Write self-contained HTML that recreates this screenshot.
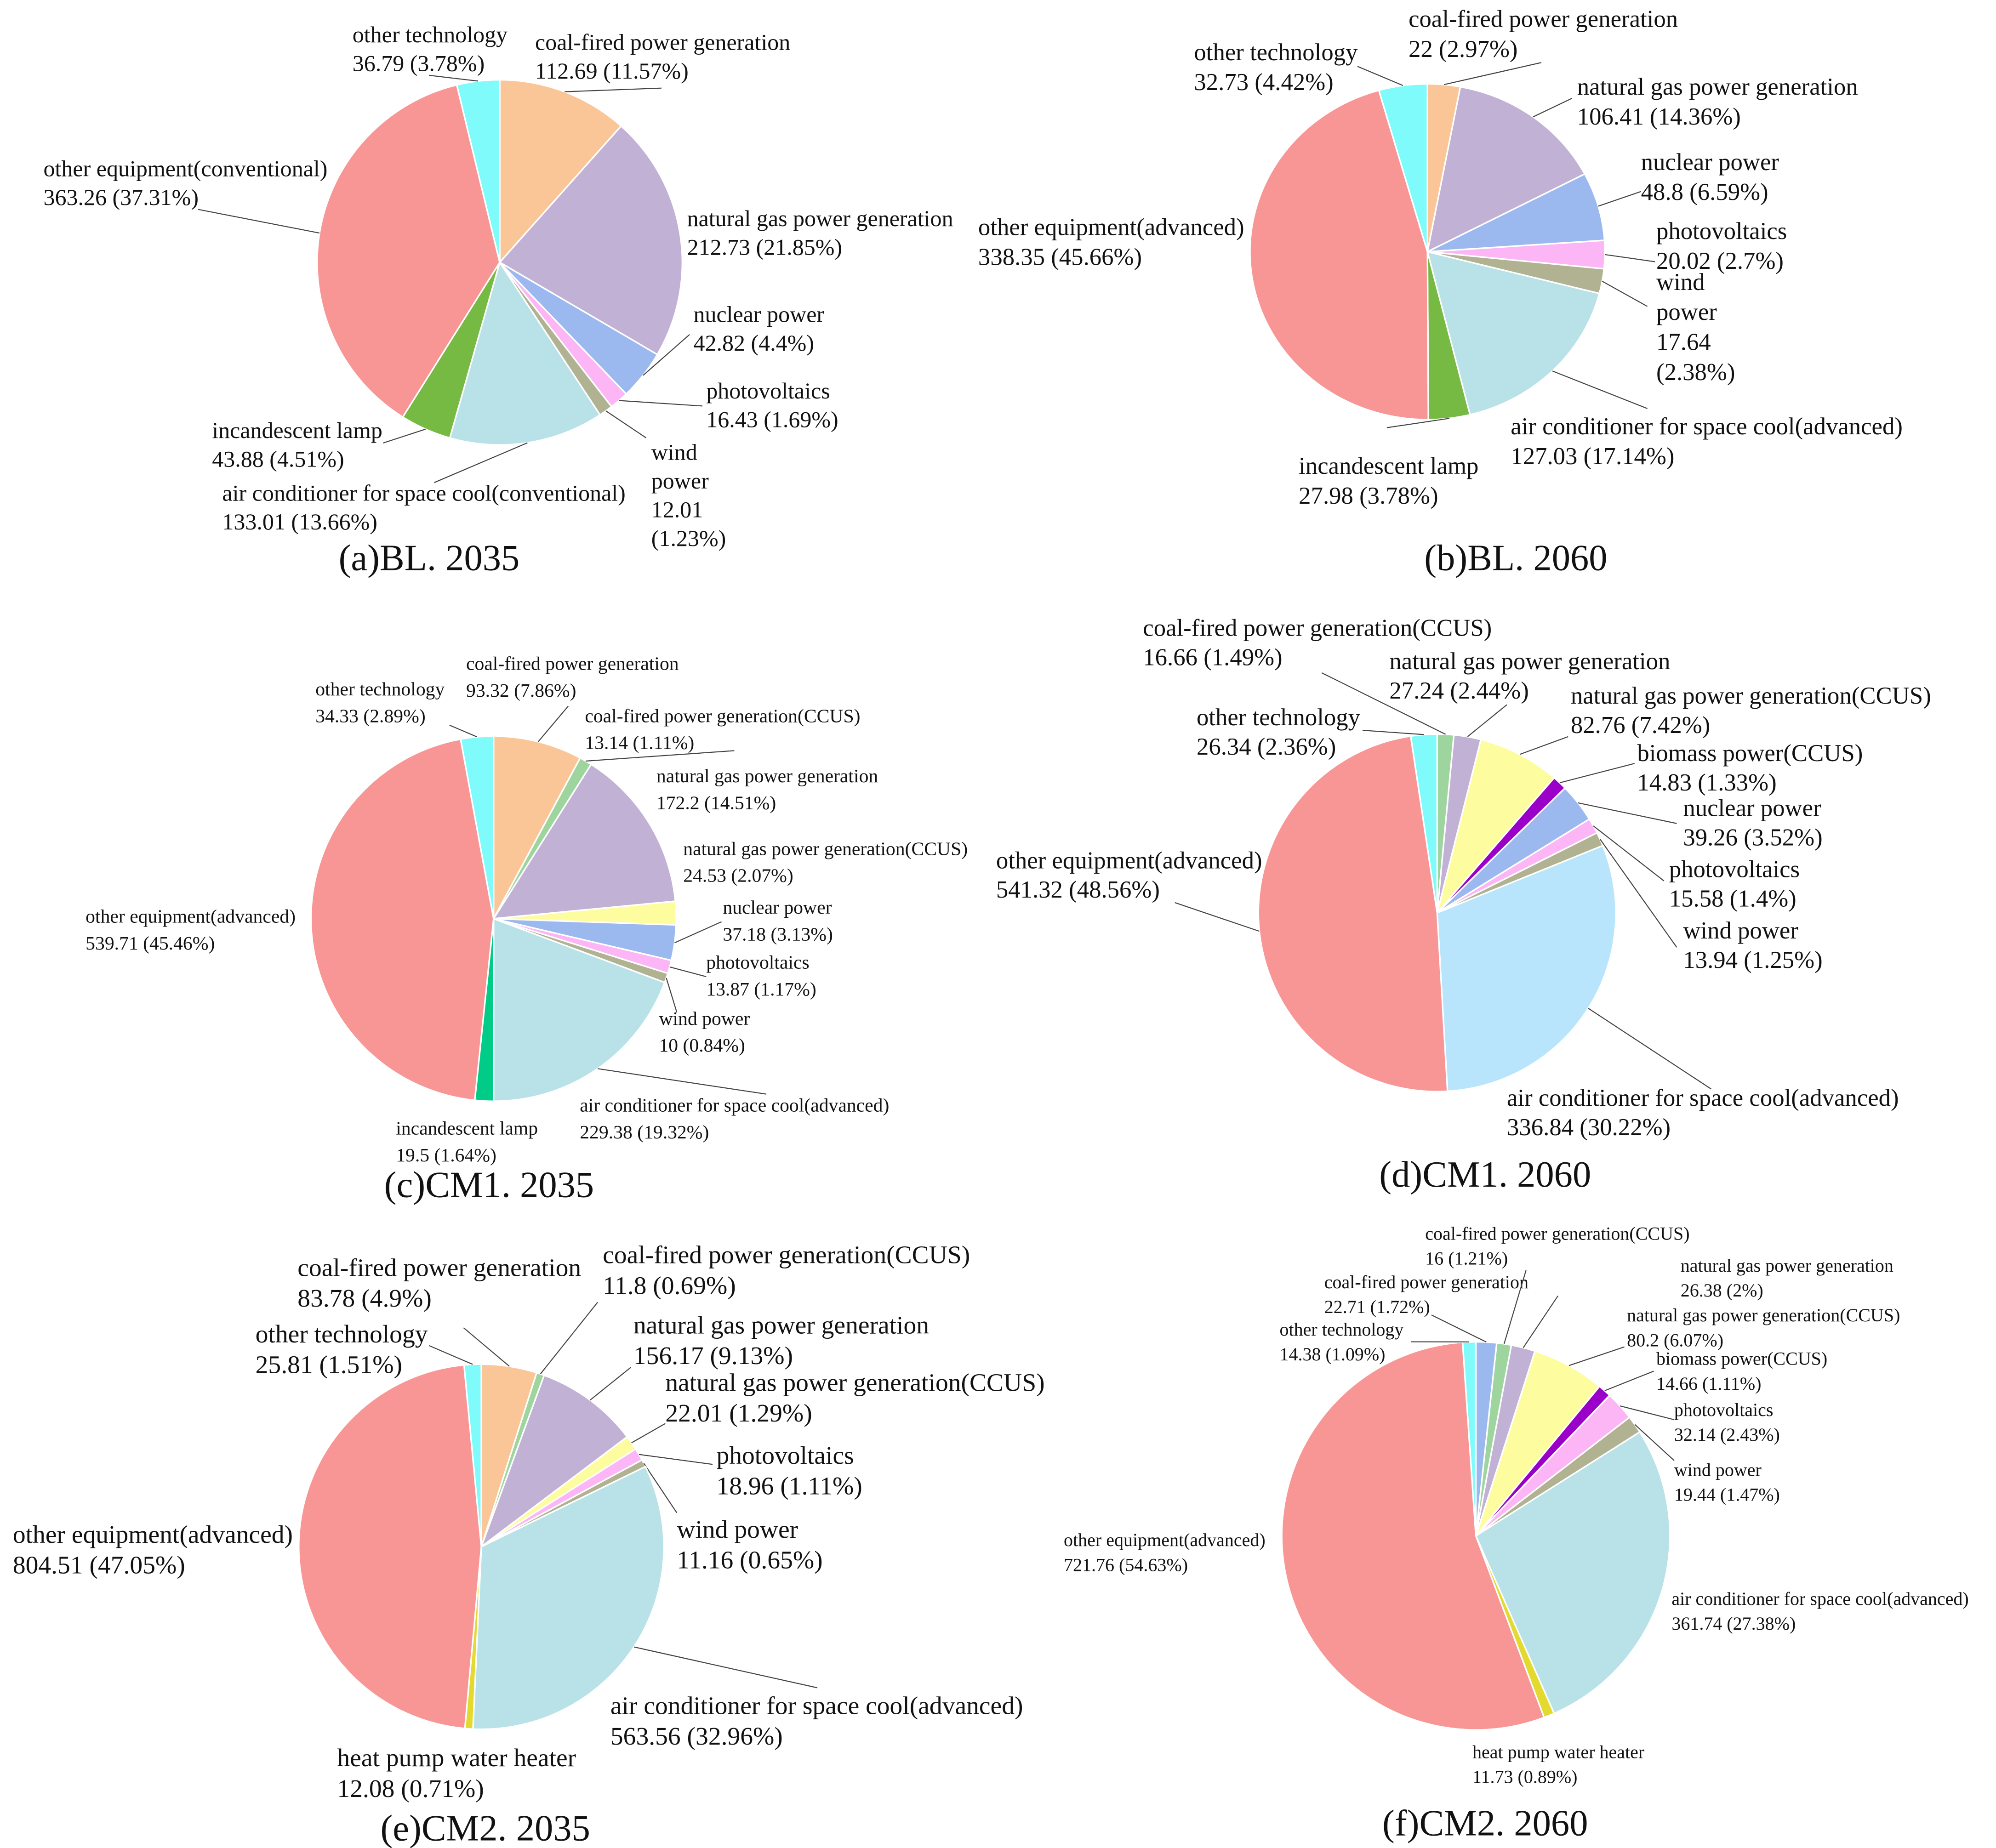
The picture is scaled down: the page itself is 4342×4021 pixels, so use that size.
<!DOCTYPE html>
<html><head><meta charset="utf-8"><style>
html,body{margin:0;padding:0;background:#fff;}
svg{display:block;font-family:"Liberation Serif",serif;}
</style></head><body>
<svg id="fig" xmlns="http://www.w3.org/2000/svg" width="4342" height="4021" viewBox="0 0 1563 1447.5">
<rect x="0" y="0" width="1563" height="1447.5" fill="#fff"/>
</svg>
<script>
// ---- data (a) BL 2035 ----
const aCats=["coal","gas","nuclear","pv","wind","ac","incand","otherEq","otherTech"];
const aValues=[112.69,212.73,42.82,16.43,12.01,133.01,43.88,363.26,36.79];
const aPct=[11.57,21.85,4.4,1.69,1.23,13.66,4.51,37.31,3.78];
// ---- data (b) BL 2060 ----
const bCats=["coal","gas","nuclear","pv","wind","acAdv","incand","otherEqAdv","otherTech"];
const bValues=[22,106.41,48.8,20.02,17.64,127.03,27.98,338.35,32.73];
const bPct=[2.97,14.36,6.59,2.7,2.38,17.14,3.78,45.66,4.42];
// ---- data (c) CM1 2035 ----
const cCats=["coal","coalCCUS","gas","gasCCUS","nuclear","pv","wind","acAdv","incand","otherEqAdv","otherTech"];
const cValues=[93.32,13.14,172.2,24.53,37.18,13.87,10,229.38,19.5,539.71,34.33];
const cPct=[7.86,1.11,14.51,2.07,3.13,1.17,0.84,19.32,1.64,45.46,2.89];
// ---- data (d) CM1 2060 ----
const dCats=["coalCCUS","gas","gasCCUS","biomass","nuclear","pv","wind","acAdv","otherEqAdv","otherTech"];
const dValues=[16.66,27.24,82.76,14.83,39.26,15.58,13.94,336.84,541.32,26.34];
const dPct=[1.49,2.44,7.42,1.33,3.52,1.4,1.25,30.22,48.56,2.36];
// ---- data (e) CM2 2035 ----
const eCats=["coal","coalCCUS","gas","gasCCUS","pv","wind","acAdv","heat","otherEqAdv","otherTech"];
const eValues=[83.78,11.8,156.17,22.01,18.96,11.16,563.56,12.08,804.51,25.81];
const ePct=[4.9,0.69,9.13,1.29,1.11,0.65,32.96,0.71,47.05,1.51];
// ---- data (f) CM2 2060 ----
const fCats=["coal","coalCCUS","gas","gasCCUS","biomass","pv","wind","acAdv","heat","otherEqAdv","otherTech"];
const fValues=[22.71,16,26.38,80.2,14.66,32.14,19.44,361.74,11.73,721.76,14.38];
const fPct=[1.72,1.21,2,6.07,1.11,2.43,1.47,27.38,0.89,54.63,1.09];

const names={coal:"coal-fired power generation",coalCCUS:"coal-fired power generation(CCUS)",gas:"natural gas power generation",gasCCUS:"natural gas power generation(CCUS)",biomass:"biomass power(CCUS)",nuclear:"nuclear power",pv:"photovoltaics",wind:"wind power",ac:"air conditioner for space cool(conventional)",acAdv:"air conditioner for space cool(advanced)",incand:"incandescent lamp",heat:"heat pump water heater",otherEq:"other equipment(conventional)",otherEqAdv:"other equipment(advanced)",otherTech:"other technology"};
const colors={coal:"#fbc697",coalCCUS:"#9ed59e",gas:"#c1b1d5",gasCCUS:"#fdfda0",biomass:"#9b00c8",nuclear:"#9cb9ef",pv:"#fcb6f5",wind:"#b0b292",ac:"#b8e2e8",acAdv:"#b8e2e8",incand:"#76b943",heat:"#e3da30",otherEq:"#f89696",otherEqAdv:"#f89696",otherTech:"#80fbfb"};

// layout (positions only)
const charts=[
 {id:"a",cats:aCats,vals:aValues,pct:aPct,cx:391.3,cy:205.5,rx:143,ry:143,fs:18,ls:22.5,title:"(a)BL. 2035",tx:336,ty:437,
  lab:[[419,33,518,69],[538,171,null],[543,246,540,262],[553,306,550,318],[510,354,506,343,1],[174,386,340,378],[166,337,300,347],[34,132,155,164],[276,27,336,59]]},
 {id:"b",cats:bCats,vals:bValues,pct:bPct,cx:1117.8,cy:197.2,rx:139,ry:131.5,fs:19,ls:23.5,title:"(b)BL. 2060",tx:1187,ty:437,
  lab:[[1103,15,1207,49],[1235,68,1231,77],[1285,127,1285,150],[1297,181,1296,205],[1297,221,1290,240,1],[1183,334,1290,320],[1017,365,1086,335],[766,178,null],[935,41,1063,52]]},
 {id:"c",cats:cCats,vals:cValues,pct:cPct,cx:386.5,cy:719.6,rx:143,ry:143,fs:15,ls:21,title:"(c)CM1. 2035",tx:383,ty:928,incColor:"#00cc88",
  lab:[[365,520,445,553],[458,561,575,588],[514,608,null],[535,665,null],[566,711,565,722],[553,754,553,765],[516,798,530,793],[454,866,600,857],[310,884,null],[67,718,null],[247,540,352,568]]},
 {id:"d",cats:dCats,vals:dValues,pct:dPct,cx:1125.4,cy:715,rx:140,ry:140,fs:19,ls:23,title:"(d)CM1. 2060",tx:1163,ty:920,acColor:"#b8e5fb",
  lab:[[895,492,1035,527],[1088,518,1180,552],[1230,545,1228,577],[1282,590,1280,598],[1318,633,1313,645],[1307,681,1303,690],[1318,729,1313,742],[1180,860,1340,853],[780,674,920,707],[937,562,1067,572]]},
 {id:"e",cats:eCats,vals:eValues,pct:ePct,cx:376.9,cy:1211.5,rx:143,ry:143,fs:20,ls:24,title:"(e)CM2. 2035",tx:380,ty:1432,
  lab:[[233,993,363,1040],[472,983,468,1020],[496,1038,494,1071],[521,1083,521,1115],[561,1140,558,1147],[530,1198,530,1185],[478,1336,640,1322],[264,1377,null],[10,1202,null],[200,1045,336,1054]]},
 {id:"f",cats:fCats,vals:fValues,pct:fPct,cx:1155.7,cy:1203,rx:152,ry:152,fs:14.4,ls:19.5,title:"(f)CM2. 2060",tx:1163,ty:1428,coalColor:"#9cb9ef",
  lab:[[1037,1004,1121,1030],[1116,966,1195,995],[1316,991,1220,1015],[1274,1030,1272,1055],[1297,1064,1295,1074],[1311,1104,1311,1112],[1311,1151,1311,1144],[1309,1252,null],[1153,1372,null],[833,1206,null],[1002,1041,1105,1051]]}
];
const NS="http://www.w3.org/2000/svg";
const svg=document.getElementById("fig");
function mk(tag,attrs,parent){const e=document.createElementNS(NS,tag);for(const k in attrs)e.setAttribute(k,attrs[k]);parent.appendChild(e);return e;}
function pt(c,ang,k){return [c.cx+c.rx*k*Math.sin(ang),c.cy-c.ry*k*Math.cos(ang)];}
charts.forEach(c=>{
  const g=mk("g",{},svg);
  
  
  const total=c.vals.reduce((s,v)=>s+v,0);
  let a0=0;
  c.cats.forEach((cat,i)=>{
    const a1=a0+c.vals[i]/total*2*Math.PI;
    const p0=pt(c,a0,1),p1=pt(c,a1,1);
    const large=(a1-a0)>Math.PI?1:0;
    let col=colors[cat];
    if(cat==="incand"&&c.incColor)col=c.incColor;
    if(cat==="acAdv"&&c.acColor)col=c.acColor;
    if(cat==="coal"&&c.coalColor)col=c.coalColor;
    const p=mk("path",{d:`M${c.cx},${c.cy} L${p0[0]},${p0[1]} A${c.rx},${c.ry} 0 ${large} 1 ${p1[0]},${p1[1]} Z`,fill:col,stroke:"#fff","stroke-width":1.2},g);
    
    
    const L=c.lab[i];
    const mid=(a0+a1)/2;
    if(L[2]!==null&&L[2]!==undefined){
      const s=pt(c,mid,1);
      const ln=mk("line",{x1:s[0],y1:s[1],x2:L[2],y2:L[3],stroke:"#444","stroke-width":0.8},g);
      
      
    }
    let lines;
    const valStr=String(c.vals[i]), pctStr="("+String(c.pct[i])+"%)";
    if(L[4]===1){const nm=names[cat].split(" ");lines=[nm[0],nm[1],valStr,pctStr];}
    else lines=[names[cat],valStr+" "+pctStr];
    const t=mk("text",{x:L[0],y:L[1],"font-size":c.fs,fill:"#111","dominant-baseline":"central"},g);
    
    
    lines.forEach((s,j)=>{const ts=mk("tspan",{x:L[0],y:L[1]+j*c.ls},t);ts.textContent=s;});
    a0=a1;
  });
  const tt=mk("text",{x:c.tx,y:c.ty,"font-size":29,"text-anchor":"middle",fill:"#111","dominant-baseline":"central"},g);
  
  
  tt.textContent=c.title;
});
</script>
</body></html>
